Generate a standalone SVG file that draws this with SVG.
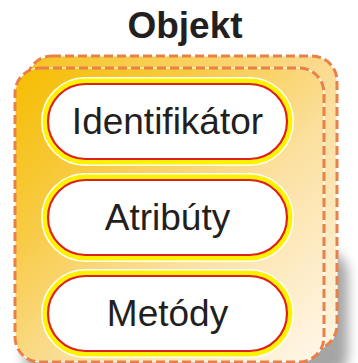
<svg xmlns="http://www.w3.org/2000/svg" width="358" height="363" viewBox="0 0 358 363">
  <style>
    .frame-edge { fill: none; stroke: #ffffff; stroke-width: 1.2; }
    .frame-dash { fill: none; stroke: #E8804A; stroke-width: 3; stroke-dasharray: 9 4; }
    .halo { fill: none; stroke: #ffffff; stroke-width: 14; }
    .band { fill: none; stroke: #FFF200; stroke-width: 11; }
    .pill { fill: #ffffff; stroke: #E0201E; stroke-width: 2.2; }
    .label { font-family: "Liberation Sans", Arial, sans-serif; font-size: 37px; fill: #231F20; text-anchor: middle; }
    .title { font-family: "Liberation Sans", Arial, sans-serif; font-size: 37px; font-weight: bold; fill: #231F20; text-anchor: middle; }
  </style>
  <defs>
    <linearGradient id="frameFill" x1="0" y1="0" x2="1" y2="1">
      <stop offset="0" stop-color="#F5BD00"/>
      <stop offset="0.3" stop-color="#F8CB45"/>
      <stop offset="0.6" stop-color="#FBE0A0"/>
      <stop offset="1" stop-color="#FFF7EA"/>
    </linearGradient>
    <linearGradient id="backFill" x1="0" y1="0" x2="1" y2="1">
      <stop offset="0" stop-color="#F6C420"/>
      <stop offset="0.5" stop-color="#FADB90"/>
      <stop offset="1" stop-color="#FFF5E2"/>
    </linearGradient>
    <filter id="soft" x="-20%" y="-20%" width="140%" height="140%">
      <feGaussianBlur stdDeviation="6"/>
    </filter>
  </defs>

  <!-- drop shadow under the stacked frames -->
  <rect x="24" y="250" width="324" height="130" rx="25" fill="#6b6b6b" opacity="0.6" filter="url(#soft)"/>

  <!-- stacked object frames -->
  <g id="frame">
    <rect x="27" y="56" width="310" height="294" rx="25" fill="url(#backFill)"/>
    <rect class="frame-edge" x="27" y="56" width="310" height="294" rx="25"/>
    <rect class="frame-dash" x="27" y="56" width="310" height="294" rx="25"/>
    <rect x="15" y="68" width="309" height="294" rx="25" fill="url(#frameFill)"/>
    <rect class="frame-edge" x="15" y="68" width="309" height="294" rx="25"/>
    <rect class="frame-dash" x="15" y="68" width="309" height="294" rx="25"/>
  </g>

  <g id="title">
    <text class="title" x="185" y="38">Objekt</text>
  </g>

  <g id="identifikator">
    <rect class="halo" x="48" y="84" width="239" height="75" rx="37.5"/>
    <rect class="band" x="48" y="84" width="239" height="75" rx="37.5"/>
    <rect class="pill" x="48" y="84" width="239" height="75" rx="37.5"/>
    <text class="label" x="167.5" y="134">Identifikátor</text>
  </g>

  <g id="atributy">
    <rect class="halo" x="48" y="180" width="239" height="75" rx="37.5"/>
    <rect class="band" x="48" y="180" width="239" height="75" rx="37.5"/>
    <rect class="pill" x="48" y="180" width="239" height="75" rx="37.5"/>
    <text class="label" x="167.5" y="230">Atribúty</text>
  </g>

  <g id="metody">
    <rect class="halo" x="48" y="276" width="239" height="75" rx="37.5"/>
    <rect class="band" x="48" y="276" width="239" height="75" rx="37.5"/>
    <rect class="pill" x="48" y="276" width="239" height="75" rx="37.5"/>
    <text class="label" x="167.5" y="326">Metódy</text>
  </g>
</svg>
